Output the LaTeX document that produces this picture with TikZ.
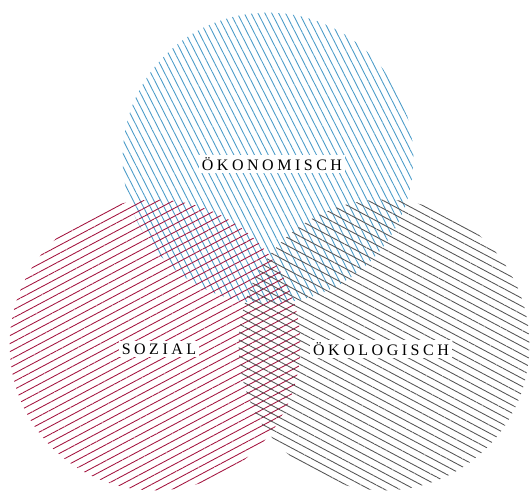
\documentclass[tikz,border=0pt]{standalone}
\usepackage{fontspec}
\setmainfont{Liberation Serif}
\newfontfamily\spacedcaps[LetterSpace=22]{Liberation Serif}
\usepackage{tikz}
\usetikzlibrary{patterns.meta,positioning}

\definecolor{oekoblue}{HTML}{4A9BC8}
\definecolor{sozred}{HTML}{A3143F}
\definecolor{oekogray}{HTML}{555555}

\begin{document}
\begin{tikzpicture}[
    x=0.75pt, y=-0.75pt,
    font=\spacedcaps\fontsize{12}{14}\selectfont,
    sphere/.style={
        circle,
        inner sep=0pt,
        minimum size=218pt
    },
    hatch/.style n args={3}{
        pattern={Lines[angle=#1, distance=#2, line width=0.65pt]},
        pattern color=#3
    },
    lbl/.style={
        fill=white,
        inner sep=2pt
    }
]
    \useasboundingbox (0,0) rectangle (531,493);
    %% Drei Kreise
    \node[sphere, hatch={-63}{4.6pt}{oekoblue}] (oekonomie) at (268,158) {};
    \node[sphere, hatch={28}{5.3pt}{sozred}] (sozial) at (155,345) {};
    \node[sphere, hatch={-28}{5.3pt}{oekogray}] (oekologie) at (384,345) {};

    %% Beschriftungen
    \node[lbl] (oekonomielbl) at (272,164) {ÖKONOMISCH};
    \node[lbl] (soziallbl) at (159,349) {SOZIAL};
    \node[lbl] (oekologielbl) at (381,349) {ÖKOLOGISCH};
\end{tikzpicture}
\end{document}
